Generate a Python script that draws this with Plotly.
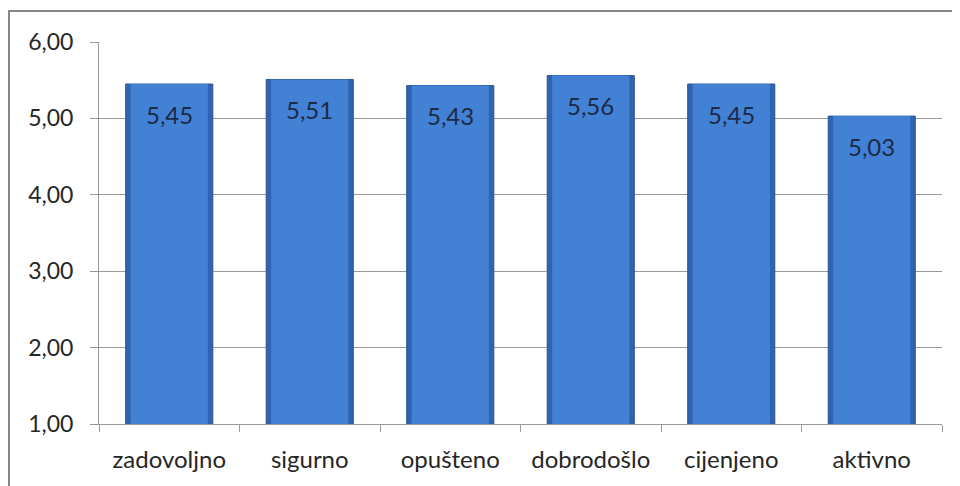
import plotly.graph_objects as go

kategorije = ['zadovoljno', 'sigurno', 'opušteno', 'dobrodošlo', 'cijenjeno', 'aktivno']
vrijednosti = [5.45, 5.51, 5.43, 5.56, 5.45, 5.03]
y_tickovi = [1, 2, 3, 4, 5, 6]

FONT = 'Lato'
visine = [v - 1 for v in vrijednosti]  # os počinje od 1
natpisi = [f'{v:.2f}'.replace('.', ',') for v in vrijednosti]

fig = go.Figure()
# tamniji rub stupca
fig.add_trace(go.Bar(
    x=kategorije, y=visine, base=1, width=0.62,
    marker=dict(color='#3064b0', line=dict(color='#2a5597', width=1)),
    hoverinfo='skip',
))
# svjetlija sredina
fig.add_trace(go.Bar(
    x=kategorije, y=visine, base=1, width=0.55,
    marker=dict(color='#4281d4', line=dict(width=0)),
    hoverinfo='skip',
))

# oznake vrijednosti unutar stupca, malo ispod vrha
for k, v, t in zip(kategorije, vrijednosti, natpisi):
    fig.add_annotation(x=k, y=v, text=t, showarrow=False, yshift=-30,
                       font=dict(family=FONT, size=24, color='#1c2a48'))

fig.update_layout(
    width=952, height=478,
    margin=dict(l=91, r=18, t=34, b=62),
    paper_bgcolor='white', plot_bgcolor='white',
    separators=',.',
    showlegend=False,
    barmode='overlay',
    font=dict(family=FONT, size=23, color='#262626'),
    shapes=[dict(type='rect', xref='paper', yref='paper',
                 x0=-0.1068, x1=1.2, y0=-0.4, y1=1.0812,
                 line=dict(color='#868686', width=2), layer='below')],
)
fig.update_yaxes(
    range=[1, 6], tickvals=y_tickovi, tickformat='.2f',
    showgrid=True, gridcolor='#9a9a9a', gridwidth=1,
    showline=True, linecolor='#9a9a9a', linewidth=1,
    ticks='outside', ticklen=8, tickcolor='#9a9a9a',
    ticklabelstandoff=12, zeroline=False,
)
fig.update_xaxes(
    showline=True, linecolor='#9a9a9a', linewidth=1,
    ticks='outside', ticklen=7, tickcolor='#9a9a9a', tickson='boundaries',
    ticklabelstandoff=14, tickfont=dict(size=24),
)

fig.write_html('out.html')
